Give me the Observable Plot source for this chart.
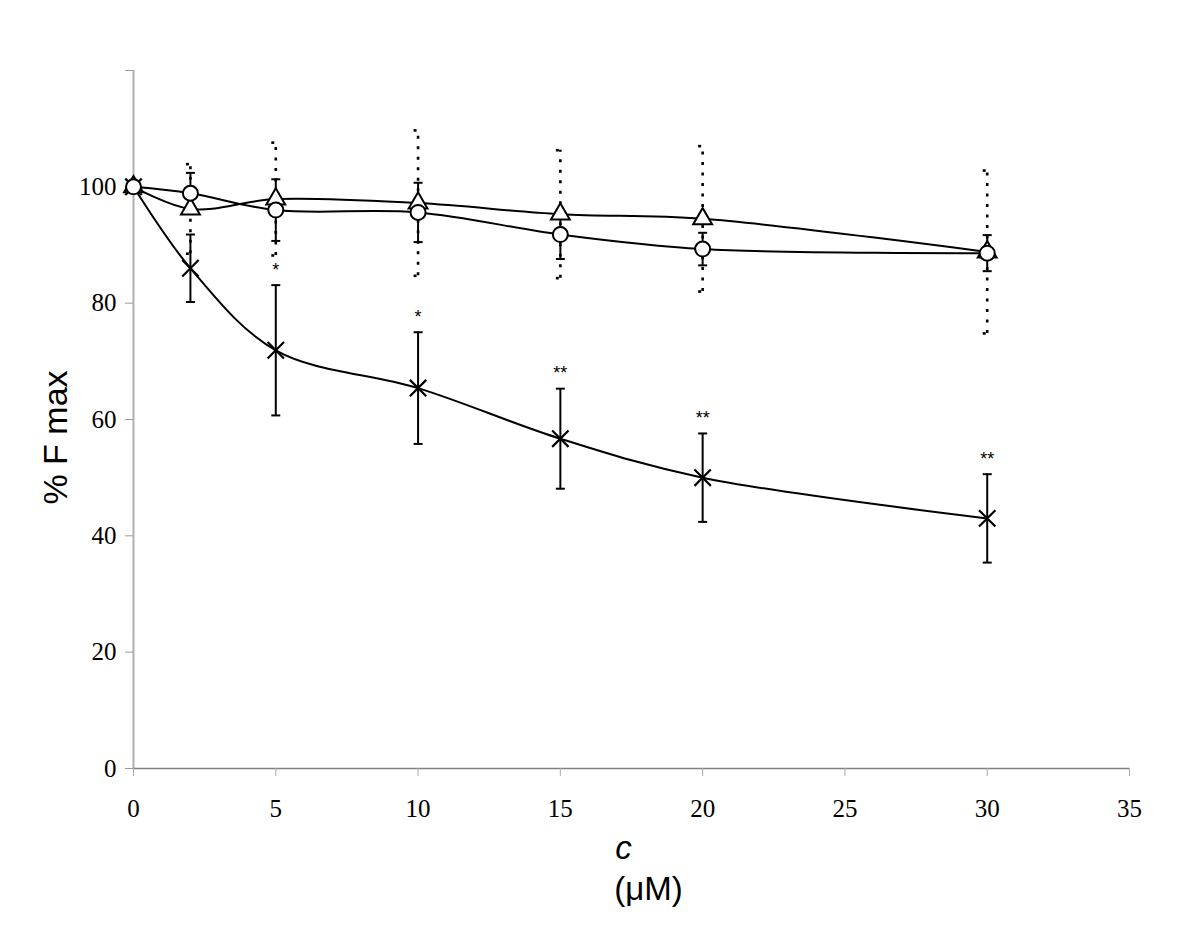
<!DOCTYPE html>
<html><head><meta charset="utf-8">
<script src="https://cdn.jsdelivr.net/npm/d3@7"></script>
<script src="https://cdn.jsdelivr.net/npm/@observablehq/plot@0.6"></script>
<style>body{margin:0;background:#fff;}</style>
</head><body><div id="chart"></div>
<script>
// concentration (µM)
const conc = [0, 2, 5, 10, 15, 20, 30];
// series with circle markers (solid error bars)
const circleMean = [100, 98.9, 96.0, 95.6, 91.8, 89.3, 88.6];
const circleSd   = [0, 3.5, 5.3, 5.1, 4.2, 2.8, 3.1];
// series with triangle markers (dotted error bars)
const triangleMean = [100, 96.2, 97.9, 97.2, 95.3, 94.5, 88.8];
const triangleSd   = [0, 7.7, 9.7, 12.5, 11.0, 12.5, 14.0];
// series with cross markers (solid error bars)
const crossMean = [100, 86.0, 71.9, 65.4, 56.7, 50.0, 43.0];
const crossSd   = [0, 5.8, 11.2, 9.6, 8.6, 7.6, 7.6];
const crossSig  = ["", "", "*", "*", "**", "**", "**"];
// tick values
const xTicks = [0, 5, 10, 15, 20, 25, 30, 35];
const yTicks = [0, 20, 40, 60, 80, 100, 120];
const yTickLabels = [0, 20, 40, 60, 80, 100];

const rows = (mean, sd, sig) => conc.map((c, i) => ({
  c, mean: mean[i], lo: mean[i] - sd[i], hi: mean[i] + sd[i], sd: sd[i], sig: sig ? sig[i] : ""
}));
const circle = rows(circleMean, circleSd);
const triangle = rows(triangleMean, triangleSd);
const cross = rows(crossMean, crossSd, crossSig);
const withErr = d => d.sd > 0;

const cap = {draw(context) { context.moveTo(-4.5, 0); context.lineTo(4.5, 0); }};

function errorBars(data, dash) {
  const o = {stroke: "black", strokeWidth: dash ? 2.6 : 2, strokeDasharray: dash || null, filter: withErr};
  return [
    Plot.ruleX(data, {x: "c", y1: "lo", y2: "hi", ...o}),
    Plot.dot(data, {x: "c", y: "hi", symbol: cap, r: 5, ...o}),
    Plot.dot(data, {x: "c", y: "lo", symbol: cap, r: 5, ...o})
  ];
}

const serif = "'Liberation Serif', 'Times New Roman', serif";
const sans = "'Liberation Sans', Arial, sans-serif";
const mid = {textAnchor: "middle", lineAnchor: "middle", fill: "black"};

const chart = Plot.plot({
  width: 1199, height: 951,
  marginLeft: 133, marginRight: 70, marginTop: 70, marginBottom: 183,
  style: {fontFamily: serif, color: "black", background: "white", overflow: "visible"},
  x: {domain: [0, 35], axis: null},
  y: {domain: [0, 120], axis: null},
  marks: [
    Plot.ruleX([0], {y1: 0, y2: 120, stroke: "#b0b0b0", strokeWidth: 2}),
    Plot.ruleY([0], {stroke: "#808080", strokeWidth: 1.5}),
    Plot.axisY({ticks: yTicks, tickSize: 8, stroke: "#999", tickFormat: () => "", label: null}),
    Plot.axisX({ticks: xTicks, tickSize: 8, stroke: "#aaa", tickFormat: () => "", label: null}),
    Plot.text(yTickLabels, {x: 0, y: d => d, text: d => String(d), dx: -17, textAnchor: "end",
      lineAnchor: "middle", fontFamily: serif, fontSize: 25, fill: "black"}),
    Plot.text(xTicks, {x: d => d, frameAnchor: "bottom", text: d => String(d), dy: 40, ...mid,
      fontFamily: serif, fontSize: 25}),
    ...errorBars(triangle, "3,7.5"),
    ...errorBars(circle),
    ...errorBars(cross),
    Plot.line(cross, {x: "c", y: "mean", curve: "catmull-rom", stroke: "black", strokeWidth: 2}),
    Plot.line(triangle, {x: "c", y: "mean", curve: "catmull-rom", stroke: "black", strokeWidth: 2}),
    Plot.line(circle, {x: "c", y: "mean", curve: "catmull-rom", stroke: "black", strokeWidth: 2}),
    Plot.dot(cross, {x: "c", y: "mean", symbol: "times", r: 7.5, stroke: "black", strokeWidth: 2.2}),
    Plot.dot(triangle, {x: "c", y: "mean", symbol: "triangle", r: 7, fill: "white", stroke: "black", strokeWidth: 2}),
    Plot.dot(circle, {x: "c", y: "mean", symbol: "circle", r: 7.5, fill: "white", stroke: "black", strokeWidth: 2}),
    Plot.text(cross, {x: "c", y: "hi", text: "sig", dy: -15, fontFamily: sans, fontSize: 18, ...mid}),
    Plot.text(["% F max"], {frameAnchor: "left", dx: -77, dy: 18, rotate: -90, ...mid,
      fontFamily: sans, fontSize: 34}),
    Plot.text(["c"], {frameAnchor: "bottom", dx: -8, dy: 80, fontStyle: "italic", ...mid,
      fontFamily: sans, fontSize: 33}),
    Plot.text(["(μM)"], {frameAnchor: "bottom", dx: 17, dy: 121, ...mid,
      fontFamily: sans, fontSize: 33})
  ]
});
document.getElementById("chart").appendChild(chart);
</script>
</body></html>
